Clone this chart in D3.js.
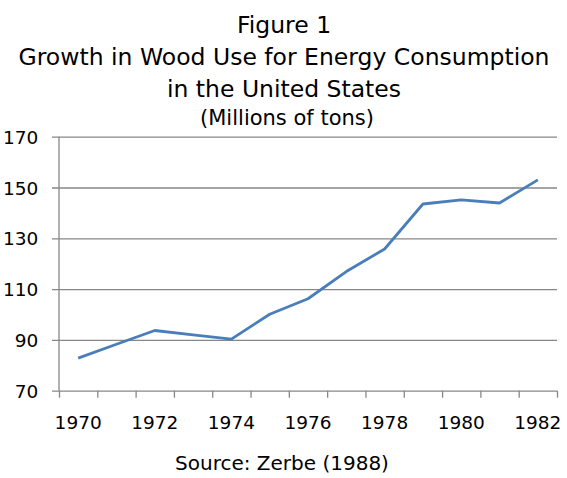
<!DOCTYPE html>
<html>
<head>
<meta charset="utf-8">
<script src="https://cdn.jsdelivr.net/npm/d3@7"></script>
<style>
  body { margin: 0; background: #fff; }
  svg text { font-family: "DejaVu Sans", Verdana, sans-serif; fill: #000; }
</style>
</head>
<body>
<svg id="chart" width="567" height="478"></svg>
<script>
// data
var years = [1970, 1971, 1972, 1973, 1974, 1975, 1976, 1977, 1978, 1979, 1980, 1981, 1982];
var woodUse = [82.8, 88.3, 93.7, 92.0, 90.3, 100.1, 106.2, 116.9, 125.8, 143.5, 145.1, 143.9, 153.0];
var yTicks = [70, 90, 110, 130, 150, 170];
var xLabels = [1970, 1972, 1974, 1976, 1978, 1980, 1982];
var titleLines = ["Figure 1", "Growth in Wood Use for Energy Consumption", "in the United States"];
var subtitle = "(Millions of tons)";
var source = "Source: Zerbe (1988)";

var svg = d3.select("#chart");
var plot = {left: 59, right: 557, top: 136.7, bottom: 390.7};
var gridColor = "#878787";

var x = d3.scaleBand()
    .domain(years)
    .range([plot.left, plot.right])
    .padding(0);

var xEdges = d3.scaleLinear()
    .domain([0, years.length])
    .range([plot.left, plot.right]);

var y = d3.scaleLinear()
    .domain([70, 170])
    .range([plot.bottom, plot.top]);

// titles
svg.append("g").selectAll("text")
    .data(titleLines)
    .enter().append("text")
    .attr("x", 284)
    .attr("y", (d, i) => 33 + i * 32)
    .attr("text-anchor", "middle")
    .style("font-size", "23.5px")
    .text(d => d);

svg.append("text")
    .attr("x", 287)
    .attr("y", 125)
    .attr("text-anchor", "middle")
    .style("font-size", "21px")
    .text(subtitle);

// y gridlines + labels
var gy = svg.append("g")
    .attr("transform", "translate(" + (plot.left - 7) + ",0)")
    .call(d3.axisLeft(y)
        .tickValues(yTicks)
        .tickSizeInner(-(plot.right - plot.left + 7))
        .tickSizeOuter(0)
        .tickPadding(13.7));
gy.select(".domain").remove();
gy.selectAll(".tick line").attr("stroke", gridColor).attr("stroke-width", 1.3);
gy.selectAll(".tick text")
    .attr("dy", "0.36em")
    .style("font-size", "18.5px")
    .style("font-family", "'DejaVu Sans', Verdana, sans-serif")
    .attr("fill", "#000");

// vertical axis line
svg.append("line")
    .attr("x1", plot.left).attr("x2", plot.left)
    .attr("y1", plot.top).attr("y2", plot.bottom)
    .attr("stroke", gridColor)
    .attr("stroke-width", 1.3);

// x tick marks at category edges
var gxTicks = svg.append("g")
    .attr("transform", "translate(0," + plot.bottom + ")")
    .call(d3.axisBottom(xEdges)
        .ticks(years.length)
        .tickSizeInner(7)
        .tickSizeOuter(0)
        .tickFormat(""));
gxTicks.select(".domain").remove();
gxTicks.selectAll(".tick line").attr("stroke", gridColor).attr("stroke-width", 1.3);

// x labels under category centres
var gx = svg.append("g")
    .attr("transform", "translate(0," + plot.bottom + ")")
    .call(d3.axisBottom(x)
        .tickValues(xLabels)
        .tickSize(0)
        .tickPadding(25.5));
gx.select(".domain").remove();
gx.selectAll(".tick text")
    .style("font-size", "18.5px")
    .style("font-family", "'DejaVu Sans', Verdana, sans-serif")
    .attr("fill", "#000");

// series line
var line = d3.line()
    .x((d, i) => x(years[i]) + x.bandwidth() / 2)
    .y(d => y(d));

svg.append("path")
    .datum(woodUse)
    .attr("d", line)
    .attr("fill", "none")
    .attr("stroke", "#4a7ebb")
    .attr("stroke-width", 2.8)
    .attr("stroke-linejoin", "round");

// source note
svg.append("text")
    .attr("x", 282)
    .attr("y", 470)
    .attr("text-anchor", "middle")
    .style("font-size", "20px")
    .text(source);
</script>
</body>
</html>
